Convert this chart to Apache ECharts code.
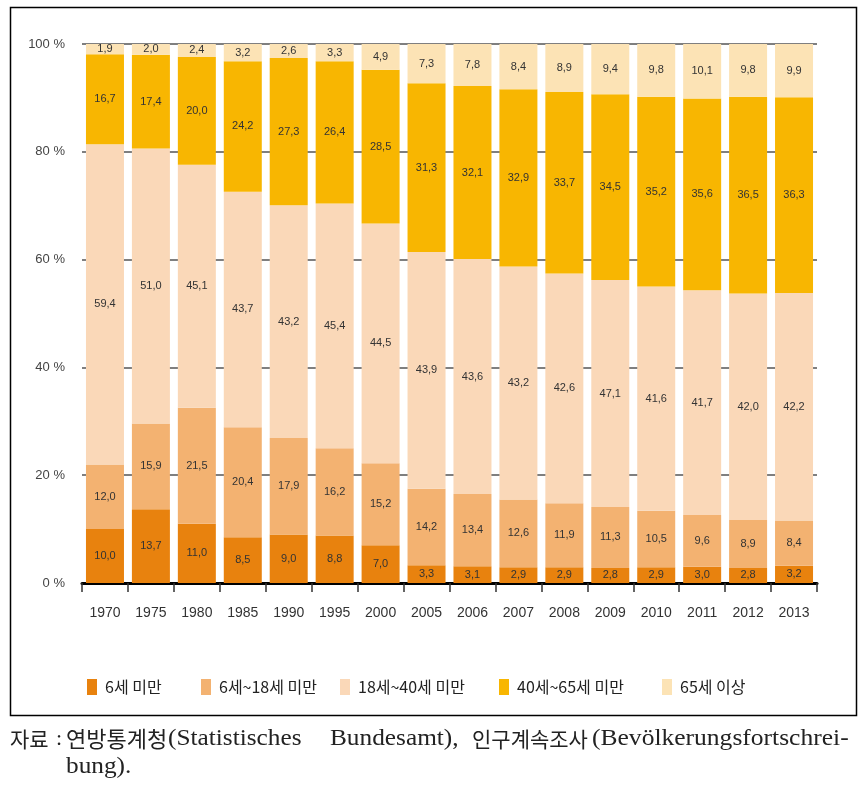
<!DOCTYPE html>
<html>
<head>
<meta charset="utf-8">
<script src="https://cdn.jsdelivr.net/npm/echarts@6/dist/echarts.min.js"></script>
<style>
html,body{margin:0;padding:0;background:#fff;}
#chart{width:866px;height:786px;}
</style>
</head>
<body>
<div id="chart"></div>
<script>
// ---- data ----
var years = ['1970','1975','1980','1985','1990','1995','2000','2005','2006','2007','2008','2009','2010','2011','2012','2013'];
var seriesNames = ['6세 미만','6세~18세 미만','18세~40세 미만','40세~65세 미만','65세 이상'];
var under6 =     [10.0,13.7,11.0,8.5,9.0,8.8,7.0,3.3,3.1,2.9,2.9,2.8,2.9,3.0,2.8,3.2];
var age6to18 =   [12.0,15.9,21.5,20.4,17.9,16.2,15.2,14.2,13.4,12.6,11.9,11.3,10.5,9.6,8.9,8.4];
var age18to40 =  [59.4,51.0,45.1,43.7,43.2,45.4,44.5,43.9,43.6,43.2,42.6,42.1,41.6,41.7,42.0,42.2];
var age40to65 =  [16.7,17.4,20.0,24.2,27.3,26.4,28.5,31.3,32.1,32.9,33.7,34.5,35.2,35.6,36.5,36.3];
var age65plus =  [1.9,2.0,2.4,3.2,2.6,3.3,4.9,7.3,7.8,8.4,8.9,9.4,9.8,10.1,9.8,9.9];
// label as printed in the source (2009, 18~40: printed "47,1")
var printedOverrides = {'2-11': '47,1'};
var yTicks = [0,20,40,60,80,100];

var colors = ['#E8820E','#F3B271','#FAD8B8','#F8B601','#FCE3B5'];
var allData = [under6, age6to18, age18to40, age40to65, age65plus];

var chart = echarts.init(document.getElementById('chart'));
var narrow = '"Liberation Sans Narrow","Arial Narrow","Liberation Sans",sans-serif';
var cjk = '"Noto Sans CJK KR","Noto Sans",sans-serif';
var serif = '"Liberation Serif","DejaVu Serif","Noto Sans CJK KR",serif';

var series = allData.map(function(arr, si){
  return {
    name: seriesNames[si],
    type: 'bar',
    stack: 'total',
    barWidth: 38,
    data: arr,
    itemStyle: {color: colors[si]},
    label: {
      show: true,
      position: 'inside',
      fontFamily: narrow,
      fontSize: 11,
      color: '#333',
      formatter: function(p){
        var k = si + '-' + p.dataIndex;
        if (printedOverrides[k]) return printedOverrides[k];
        return p.value.toFixed(1).replace('.', ',');
      }
    },
    emphasis: {disabled: true}
  };
});

var legendX = [82, 196, 335, 494, 657];
var legends = seriesNames.map(function(n, i){
  return {
    data: [n],
    left: legendX[i],
    top: 674,
    itemWidth: 10,
    itemHeight: 16,
    icon: 'rect',
    selectedMode: false,
    textStyle: {fontFamily: cjk, fontSize: 16, color: '#222', padding: [0,0,0,3]}
  };
});

var capY1 = 739, capY2 = 767;
var caption = [
  {t:'자료', x:10, y:capY1, f:cjk, s:21, sx:1},
  {t:':', x:56, y:capY1, f:serif, s:22, sx:1},
  {t:'연방통계청', x:66, y:capY1, f:cjk, s:22, sx:1},
  {t:'(Statistisches', x:168, y:capY1, f:serif, s:23, sx:1.1},
  {t:'Bundesamt),', x:330, y:capY1, f:serif, s:23, sx:1.1},
  {t:'인구계속조사', x:472, y:capY1, f:cjk, s:21, sx:1},
  {t:'(Bevölkerungsfortschrei-', x:592, y:capY1, f:serif, s:23, sx:1.11},
  {t:'bung).', x:66, y:capY2, f:serif, s:23, sx:1.1}
];
var graphics = [{
  type: 'rect', z: -10, silent: true,
  shape: {x: 10.5, y: 7.5, width: 846, height: 708},
  style: {fill: 'none', stroke: '#000', lineWidth: 1.5}
}].concat(caption.map(function(c){
  return {type:'text', x:c.x, y:c.y, scaleX:c.sx, silent:true,
    style:{text:c.t, fontFamily:c.f, fontSize:c.s, fill:'#222', verticalAlign:'middle', align:'left'}};
}));

chart.setOption({
  animation: false,
  backgroundColor: '#fff',
  grid: {left: 82, right: 49, top: 44, bottom: 203, containLabel: false},
  legend: legends,
  xAxis: {
    type: 'category',
    data: years,
    axisLine: {lineStyle: {color: '#000', width: 3}},
    axisTick: {show: true, length: 9, lineStyle: {color: '#333', width: 1.5}},
    axisLabel: {fontFamily: narrow, fontSize: 14, color: '#333', margin: 23}
  },
  yAxis: {
    type: 'value',
    min: yTicks[0], max: yTicks[yTicks.length-1], interval: 20,
    axisLine: {show: false},
    axisTick: {show: false},
    axisLabel: {fontFamily: narrow, fontSize: 13, color: '#444', margin: 17,
      formatter: function(v){ return v + ' %'; }},
    splitLine: {lineStyle: {color: '#555', width: 1.5}}
  },
  series: series,
  graphic: graphics
});
</script>
</body>
</html>
